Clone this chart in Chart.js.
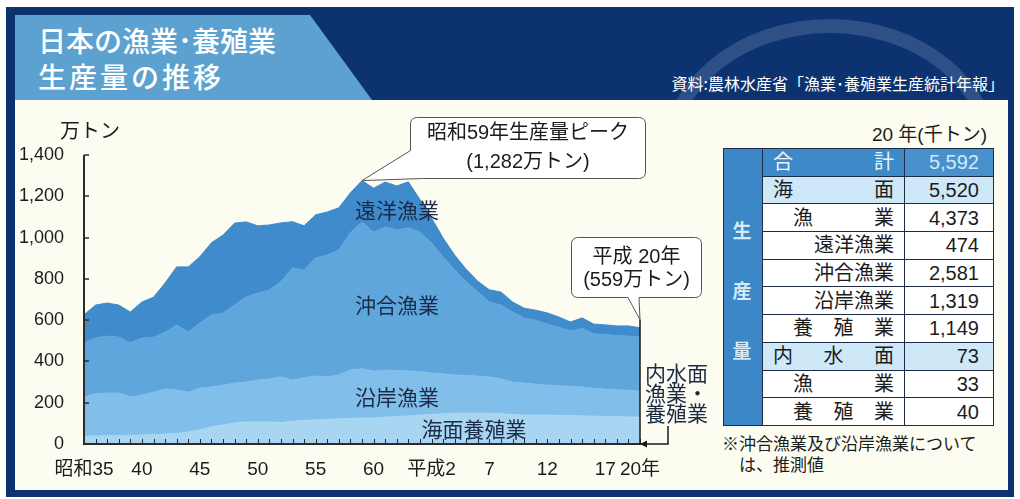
<!DOCTYPE html>
<html lang="ja">
<head>
<meta charset="utf-8">
<title>日本の漁業・養殖業生産量の推移</title>
<script src="https://cdn.jsdelivr.net/npm/chart.js@4.4.1/dist/chart.umd.min.js"></script>
<style>
  html, body { margin: 0; padding: 0; background: #fff; }
  body { width: 1020px; height: 499px; position: relative; overflow: hidden;
         font-family: "Noto Sans CJK JP", sans-serif; color: #1c1c1c; }
  .abs { position: absolute; }
  #navy { left: 6px; top: 7px; width: 1008px; height: 490px; background: #0c3270; overflow: hidden; }
  #ring { left: 655px; top: 12px; width: 310px; height: 250px; border-radius: 50%;
          border: 14px solid rgba(150, 170, 200, 0.25); }
  #banner { left: 15px; top: 15px; width: 360px; height: 85px; background: #5da1d0;
            clip-path: polygon(0 0, 295px 0, 357px 85px, 0 85px); }
  #title { left: 38px; top: 22px; color: #fff; font-size: 28px; font-weight: 500; line-height: 36px; }
  #title .l2 { letter-spacing: 3px; }
  #source { right: 16px; top: 72px; color: #fff; font-size: 16px; line-height: 22px; }
  #panel { left: 15px; top: 100px; width: 993px; height: 390px; background: #fdfcf1; }
  #fishChart { left: 15px; top: 100px; }
  .lbl { position: absolute; transform: translate(-50%, -50%); font-size: 21px; color: #1b2a47; white-space: nowrap; }
  #unit { left: 60px; top: 118px; font-size: 20px; line-height: 24px; }
  #inland { left: 645px; top: 362px; font-size: 21px; line-height: 20px; color: #1b2a47; }
  #thead { right: 33px; top: 122px; font-size: 19px; line-height: 26px; font-family: "Liberation Sans", "Noto Sans CJK JP", sans-serif; }
  #tbl { left: 723px; top: 148px; width: 270px; border-collapse: collapse; table-layout: fixed;
         font-family: "Liberation Sans", "Noto Sans CJK JP", sans-serif; font-size: 20px; }
  #tbl td { border: 1.5px solid #1e2b45; padding: 0; height: 26.7px; line-height: 26px; background: #fff; }
  #tbl td.side { background: #3b87c7; width: 37px; }
  #tbl td.v { text-align: right; padding-right: 14px; }
  #tbl tr.sum td { background: #3e8ac8; color: #eaf5fc; }
  #tbl tr.sum td.v { color: #cfe9f9; background: #4891cc; }
  #tbl tr.sub td { background: #cfe8f8; }
  #tbl tr.sub td.side, #tbl tr.sum td.side { background: #3b87c7; }
  .jf { display: flex; justify-content: space-between; padding-right: 10px; }
  .jr { text-align: right; padding-right: 10px; }
  .sidech { position: absolute; transform: translate(-50%, -50%); color: #d3eaf8; font-size: 19px; font-weight: 700; }
  #note { left: 722px; top: 432px; font-size: 17px; line-height: 21px; }
</style>
</head>
<body>
<div id="navy" class="abs"><div id="ring" class="abs"></div></div>
<div id="banner" class="abs"></div>
<div id="title" class="abs">日本の漁業･養殖業<br><span class="l2">生産量の推移</span></div>
<div id="source" class="abs">資料:農林水産省「漁業･養殖業生産統計年報」</div>
<div id="panel" class="abs"></div>
<canvas id="fishChart" class="abs" width="705" height="390"></canvas>

<div id="unit" class="abs">万トン</div>
<div class="lbl" style="left:397px; top:209px;">遠洋漁業</div>
<div class="lbl" style="left:397px; top:304px;">沖合漁業</div>
<div class="lbl" style="left:397px; top:396px;">沿岸漁業</div>
<div class="lbl" style="left:474px; top:428px;">海面養殖業</div>
<div id="inland" class="abs">内水面<br>漁業・<br>養殖業</div>

<div id="thead" class="abs">20 年(千トン)</div>
<table id="tbl" class="abs">
  <colgroup><col style="width:39px"><col style="width:142px"><col style="width:89px"></colgroup>
  <tr class="sum"><td class="side" rowspan="10"></td><td><div class="jf" style="padding-left:10px"><span>合</span><span>計</span></div></td><td class="v">5,592</td></tr>
  <tr class="sub"><td><div class="jf" style="padding-left:10px"><span>海</span><span>面</span></div></td><td class="v">5,520</td></tr>
  <tr><td><div class="jf" style="padding-left:30px"><span>漁</span><span>業</span></div></td><td class="v">4,373</td></tr>
  <tr><td><div class="jr">遠洋漁業</div></td><td class="v">474</td></tr>
  <tr><td><div class="jr">沖合漁業</div></td><td class="v">2,581</td></tr>
  <tr><td><div class="jr">沿岸漁業</div></td><td class="v">1,319</td></tr>
  <tr><td><div class="jf" style="padding-left:30px"><span>養</span><span>殖</span><span>業</span></div></td><td class="v">1,149</td></tr>
  <tr class="sub"><td><div class="jf" style="padding-left:10px"><span>内</span><span>水</span><span>面</span></div></td><td class="v">73</td></tr>
  <tr><td><div class="jf" style="padding-left:30px"><span>漁</span><span>業</span></div></td><td class="v">33</td></tr>
  <tr><td><div class="jf" style="padding-left:30px"><span>養</span><span>殖</span><span>業</span></div></td><td class="v">40</td></tr>
</table>
<div class="sidech" style="left:742px; top:229px;">生</div>
<div class="sidech" style="left:742px; top:289px;">産</div>
<div class="sidech" style="left:742px; top:349px;">量</div>
<div id="note" class="abs">※沖合漁業及び沿岸漁業について<br>&emsp;は、推測値</div>

<script>
// years 昭和35 (1960) .. 平成20 (2008), values in 万トン
var years = [1960, 1961, 1962, 1963, 1964, 1965, 1966, 1967, 1968, 1969,
             1970, 1971, 1972, 1973, 1974, 1975, 1976, 1977, 1978, 1979,
             1980, 1981, 1982, 1983, 1984, 1985, 1986, 1987, 1988, 1989,
             1990, 1991, 1992, 1993, 1994, 1995, 1996, 1997, 1998, 1999,
             2000, 2001, 2002, 2003, 2004, 2005, 2006, 2007, 2008];

var kaimenYoshoku = [39, 39, 40, 41, 42, 44, 45, 48, 51, 58,
                     68, 83, 92, 102, 107, 107, 107, 104, 110, 114,
                     117, 119, 122, 124, 126, 126, 130, 133, 136, 140,
                     143, 146, 150, 150, 150, 150, 147, 143, 140, 140,
                     140, 139, 138, 136, 135, 133, 132, 131, 130];

var enganGyogyo = [189, 204, 207, 206, 186, 193, 206, 218, 210, 193,
                   203, 193, 193, 193, 193, 203, 208, 221, 200, 206,
                   213, 206, 213, 235, 238, 227, 228, 223, 218, 211,
                   201, 193, 184, 182, 179, 175, 168, 157, 155, 150,
                   145, 143, 142, 140, 135, 133, 131, 129, 126];

var okiaiGyogyo = [262, 270, 276, 271, 262, 276, 266, 276, 315, 291,
                   315, 349, 349, 378, 412, 422, 431, 461, 543, 523,
                   572, 591, 605, 664, 712, 673, 693, 681, 693, 676,
                   630, 567, 508, 453, 408, 363, 358, 340, 315, 310,
                   296, 284, 267, 283, 264, 264, 262, 263, 261];

var enyoGyogyo = [136, 160, 160, 155, 149, 175, 194, 238, 282, 316,
                  321, 350, 378, 397, 364, 325, 315, 285, 224, 214,
                  208, 208, 204, 194, 200, 213, 218, 213, 223, 158,
                  121, 92, 73, 61, 51, 59, 63, 48, 48, 48,
                  54, 49, 44, 52, 47, 47, 47, 49, 46];

var xTickYears = [1960, 1965, 1970, 1975, 1980, 1985, 1990, 1995, 2000, 2005, 2008];
var xTickText = ['昭和35', '40', '45', '50', '55', '60', '平成2', '7', '12', '17', '20年'];
var yTicks = [0, 200, 400, 600, 800, 1000, 1200, 1400];
var yTickText = ['0', '200', '400', '600', '800', '1,000', '1,200', '1,400'];

var totals = years.map(function(y, i) {
  return kaimenYoshoku[i] + enganGyogyo[i] + okiaiGyogyo[i] + enyoGyogyo[i];
});

var numFont = "'Liberation Sans', 'Noto Sans CJK JP', sans-serif";

// axes on top of the areas, upward year ticks, callouts and the inland-water bracket
var decorations = {
  id: 'decorations',
  afterDraw: function(chart) {
    var ctx = chart.ctx;
    var a = chart.chartArea;
    var xs = chart.scales.x, ys = chart.scales.y;
    ctx.save();

    ctx.strokeStyle = '#2b2b2b';
    ctx.lineWidth = 1;
    years.forEach(function(yr, i) {
      var px = Math.round(xs.getPixelForValue(i)) + 0.5;
      ctx.beginPath();
      ctx.moveTo(px, a.bottom);
      ctx.lineTo(px, a.bottom - 5);
      ctx.stroke();
    });
    ctx.lineWidth = 1.5;
    yTicks.forEach(function(v) {
      if (v === 0) return;
      var py = Math.round(ys.getPixelForValue(v));
      ctx.beginPath();
      ctx.moveTo(a.left, py);
      ctx.lineTo(a.left + 5, py);
      ctx.stroke();
    });
    ctx.lineWidth = 2;
    ctx.beginPath();
    ctx.moveTo(a.left, a.top);
    ctx.lineTo(a.left, a.bottom);
    ctx.lineTo(a.right, a.bottom);
    ctx.stroke();

    // peak callout (昭和59年)
    var pi = years.indexOf(1984);
    var px1 = xs.getPixelForValue(pi), py1 = ys.getPixelForValue(totals[pi]);
    var b = { x: 395.5, y: 17.5, w: 235, h: 61 }, r = 6;
    ctx.beginPath();
    ctx.moveTo(b.x + r, b.y);
    ctx.lineTo(b.x + b.w - r, b.y);
    ctx.arcTo(b.x + b.w, b.y, b.x + b.w, b.y + r, r);
    ctx.lineTo(b.x + b.w, b.y + b.h - r);
    ctx.arcTo(b.x + b.w, b.y + b.h, b.x + b.w - r, b.y + b.h, r);
    ctx.lineTo(b.x + 12, b.y + b.h);
    ctx.lineTo(px1, py1);
    ctx.lineTo(b.x, b.y + 33);
    ctx.lineTo(b.x, b.y + r);
    ctx.arcTo(b.x, b.y, b.x + r, b.y, r);
    ctx.closePath();
    ctx.fillStyle = '#fff';
    ctx.fill();
    ctx.strokeStyle = '#555';
    ctx.lineWidth = 1;
    ctx.stroke();
    ctx.fillStyle = '#1c1c1c';
    ctx.font = "20px " + numFont;
    ctx.textAlign = 'center';
    ctx.textBaseline = 'middle';
    ctx.fillText('昭和59年生産量ピーク', b.x + b.w / 2, b.y + 16);
    ctx.fillText('(1,282万トン)', b.x + b.w / 2, b.y + 45);

    // last year callout (平成20年)
    var li = years.length - 1;
    var px2 = xs.getPixelForValue(li), py2 = ys.getPixelForValue(totals[li]) - 8;
    var c = { x: 556.5, y: 137.5, w: 130, h: 60 };
    ctx.beginPath();
    ctx.moveTo(c.x + r, c.y);
    ctx.lineTo(c.x + c.w - r, c.y);
    ctx.arcTo(c.x + c.w, c.y, c.x + c.w, c.y + r, r);
    ctx.lineTo(c.x + c.w, c.y + c.h - r);
    ctx.arcTo(c.x + c.w, c.y + c.h, c.x + c.w - r, c.y + c.h, r);
    ctx.lineTo(px2 - 1, c.y + c.h);
    ctx.lineTo(px2, py2);
    ctx.lineTo(px2 - 12, c.y + c.h);
    ctx.lineTo(c.x + r, c.y + c.h);
    ctx.arcTo(c.x, c.y + c.h, c.x, c.y + c.h - r, r);
    ctx.lineTo(c.x, c.y + r);
    ctx.arcTo(c.x, c.y, c.x + r, c.y, r);
    ctx.closePath();
    ctx.fillStyle = '#fff';
    ctx.fill();
    ctx.strokeStyle = '#555';
    ctx.stroke();
    ctx.fillStyle = '#1c1c1c';
    ctx.font = "20px " + numFont;
    ctx.fillText('平成 20年', c.x + c.w / 2, c.y + 20);
    ctx.fillText('(559万トン)', c.x + c.w / 2, c.y + 43);

    // vertical line and inland-water bracket
    ctx.strokeStyle = '#1a1a1a';
    ctx.lineWidth = 1.5;
    ctx.beginPath();
    ctx.moveTo(px2, py2);
    ctx.lineTo(px2, a.bottom);
    ctx.lineTo(px2 + 28, a.bottom);
    ctx.lineTo(px2 + 28, a.bottom - 18);
    ctx.stroke();
    ctx.fillStyle = '#1a1a1a';
    ctx.beginPath();
    ctx.moveTo(px2, a.bottom);
    ctx.lineTo(px2 + 7, a.bottom - 3.5);
    ctx.lineTo(px2 + 7, a.bottom + 3.5);
    ctx.closePath();
    ctx.fill();

    ctx.restore();
  }
};

function layer(label, values, color, fill) {
  return {
    label: label,
    data: values,
    backgroundColor: color,
    borderColor: color,
    borderWidth: 1,
    pointRadius: 0,
    tension: 0,
    fill: fill
  };
}

var ctx = document.getElementById('fishChart').getContext('2d');
var fishChart = new Chart(ctx, {
  type: 'line',
  data: {
    labels: years,
    datasets: [
      layer('海面養殖業', kaimenYoshoku, '#a7d5f2', 'origin'),
      layer('沿岸漁業', enganGyogyo, '#81bee9', '-1'),
      layer('沖合漁業', okiaiGyogyo, '#5fa6dc', '-1'),
      layer('遠洋漁業', enyoGyogyo, '#3f8bcb', '-1')
    ]
  },
  options: {
    responsive: false,
    animation: false,
    events: [],
    layout: { padding: { top: 55, right: 80, left: 0, bottom: 0 } },
    plugins: { legend: { display: false }, tooltip: { enabled: false } },
    scales: {
      x: {
        offset: false,
        grid: { display: false },
        border: { display: false },
        ticks: {
          autoSkip: false,
          maxRotation: 0,
          padding: 6,
          color: '#1c1c1c',
          font: { family: numFont, size: 19 },
          callback: function(v, i) {
            var k = xTickYears.indexOf(years[i]);
            return k >= 0 ? xTickText[k] : '';
          }
        },
        afterFit: function(s) { s.height = 46; }
      },
      y: {
        stacked: true,
        min: 0,
        max: 1400,
        grid: { display: false },
        border: { display: false },
        ticks: {
          stepSize: 200,
          padding: 12,
          color: '#1c1c1c',
          font: { family: numFont, size: 18 },
          callback: function(v) {
            var k = yTicks.indexOf(v);
            return k >= 0 ? yTickText[k] : '';
          }
        },
        afterFit: function(s) { s.width = 69; }
      }
    }
  },
  plugins: [decorations]
});
</script>
</body>
</html>
